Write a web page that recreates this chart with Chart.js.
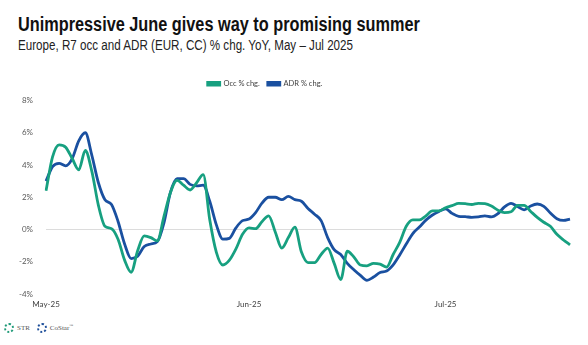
<!DOCTYPE html>
<html>
<head>
<meta charset="utf-8">
<script src="https://cdn.jsdelivr.net/npm/chart.js@4.4.1/dist/chart.umd.min.js"></script>
<style>
    html, body { margin: 0; padding: 0; background: #fff; }
    body { width: 588px; height: 345px; position: relative; overflow: hidden; font-family: 'Liberation Sans', Arial, sans-serif; }
    .title { position: absolute; left: 18px; top: 13px; font-size: 19.5px; font-weight: bold; color: #111; white-space: nowrap; transform: scaleX(0.835); transform-origin: 0 0; }
    .subtitle { position: absolute; left: 18px; top: 37px; font-size: 14px; color: #222; white-space: nowrap; transform: scaleX(0.83); transform-origin: 0 0; }
    .chart-box { position: absolute; left: 0; top: 72px; width: 588px; height: 244px; }
    .logos { position: absolute; left: 4px; top: 323px; font-size: 7px; color: #555; font-family: 'Liberation Serif', serif; display: flex; align-items: center; gap: 3px; }
    .ring { display: inline-block; width: 6px; height: 6px; border-radius: 50%; border: 2px dotted; box-sizing: content-box; }
</style>
</head>
<body>
<div class="title">Unimpressive June gives way to promising summer</div>
<div class="subtitle">Europe, R7 occ and ADR (EUR, CC) % chg. YoY, May – Jul 2025</div>
<div class="chart-box"><canvas id="trendChart"></canvas></div>
<div class="logos">
    <span class="ring" style="border-color:#1f9a78"></span><span>STR</span>
    <span class="ring" style="border-color:#1e4f9a; margin-left:4px"></span><span>CoStar<sup style="font-size:4px">™</sup></span>
</div>

<script>
// Daily rolling 7-day % change vs last year, 1 May - 20 Jul 2025
const startDate = '2025-05-01';
const monthTicks = ['May-25', 'Jun-25', 'Jul-25'];

const occChg = [
    2.4, 4.5, 5.25, 5.1, 4.4, 3.7, 4.9, 3.6, 1.5, 0.2,
    0.05, -0.6, -1.9, -2.65, -1.3, -0.4, -0.5, -0.7, 0.8, 2.3,
    3.05, 2.75, 2.45, 2.9, 3.4, 0.6, -1.4, -2.2, -1.9, -1.2,
    -0.3, 0.1, 0.05, 0.5, 0.85, -0.15, -1.15, -0.5, 0.15, -1.4,
    -2.05, -2.05, -1.55, -1.15, -2.1, -3.1, -1.35, -1.7, -2.2, -2.25,
    -2.1, -2.15, -2.33, -1.55, -0.8, 0.2, 0.6, 0.6, 0.85, 1.15,
    1.15, 1.35, 1.48, 1.62, 1.6, 1.55, 1.62, 1.6, 1.45, 1.2,
    1.05, 1.1, 1.5, 1.5, 1.12, 0.75, 0.45, 0.2, -0.3, -0.65,
    -0.95
];

const adrChg = [
    3.0, 3.9, 4.1, 3.95, 4.4, 5.5, 6.0, 4.6, 2.9, 1.85,
    1.55, 0.5, -0.9, -1.8, -1.65, -1.05, -0.9, -0.75, 0.4, 2.3,
    3.15, 3.15, 2.8, 2.7, 2.75, 1.75, 0.3, -0.6, -0.55, 0.1,
    0.55, 0.65, 1.05, 1.65, 2.0, 2.0, 1.85, 2.05, 1.85, 1.75,
    1.3, 0.95, 0.55, -0.5, -1.25, -1.55, -2.1, -2.5, -2.85, -3.15,
    -2.95, -2.67, -2.58, -2.2, -1.58, -0.9, -0.25, 0.15, 0.58, 0.9,
    1.12, 1.28, 1.0, 0.82, 0.8, 0.75, 0.78, 0.84, 0.78, 0.98,
    1.4, 1.62, 1.42, 1.22, 1.46, 1.58, 1.44, 1.02, 0.67, 0.56,
    0.65
];

// one label per day, ticks only shown on the 1st of each month
const days = [];
const d0 = new Date(startDate + 'T00:00:00Z');
for (let i = 0; i < occChg.length; i++) {
    const d = new Date(d0.getTime() + i * 86400000);
    days.push(d.toISOString().slice(0, 10));
}

const smallFont = 'Lato, "Open Sans", sans-serif';

// legend: extra room below it, and sits a bit left of centre
const legendTweak = {
    id: 'legendTweak',
    beforeInit: function (chart) {
        const fit = chart.legend.fit;
        chart.legend.fit = function () {
            fit.call(this);
            this.height += 3;
        };
    },
    afterLayout: function (chart) {
        chart.legend.right -= 40;
        chart.legend.adjustHitBoxes();
    }
};

const ctx = document.getElementById('trendChart');
new Chart(ctx, {
    type: 'line',
    data: {
        labels: days,
        datasets: [
            {
                label: 'Occ % chg.',
                data: occChg,
                borderColor: '#17a080',
                backgroundColor: '#17a080',
                borderWidth: 2.8,
                pointRadius: 0,
                tension: 0.4,
                cubicInterpolationMode: 'monotone'
            },
            {
                label: 'ADR % chg.',
                data: adrChg,
                borderColor: '#1a50a0',
                backgroundColor: '#1a50a0',
                borderWidth: 2.8,
                pointRadius: 0,
                tension: 0.4,
                cubicInterpolationMode: 'monotone'
            }
        ]
    },
    options: {
        responsive: true,
        maintainAspectRatio: false,
        animation: false,
        layout: { padding: { left: 0, right: 18, top: 0, bottom: 0 } },
        plugins: {
            legend: {
                display: true,
                position: 'top',
                labels: {
                    boxWidth: 12,
                    boxHeight: 2.5,
                    padding: 8,
                    color: '#404040',
                    font: { family: smallFont, size: 7.5 }
                }
            },
            tooltip: { enabled: false }
        },
        scales: {
            x: {
                offset: false,
                grid: { display: false, drawTicks: false },
                border: { display: false },
                ticks: {
                    autoSkip: false,
                    maxRotation: 0,
                    color: '#404040',
                    font: { family: smallFont, size: 8 },
                    padding: 6,
                    callback: function (val, i) {
                        const lbl = days[i];
                        if (lbl && lbl.slice(8) === '01') {
                            return monthTicks[parseInt(lbl.slice(5, 7), 10) - 5];
                        }
                        return null;
                    }
                },
                afterFit: function (scale) { scale.height = 22; }
            },
            y: {
                min: -4,
                max: 8,
                border: { display: false },
                grid: {
                    drawTicks: false,
                    color: function (c) { return c.tick && c.tick.value === 0 ? '#dcdcdc' : 'rgba(0,0,0,0)'; }
                },
                ticks: {
                    stepSize: 2,
                    color: '#595959',
                    font: { family: smallFont, size: 8 },
                    padding: 13,
                    callback: function (v) { return v + '%'; }
                },
                afterFit: function (scale) { scale.width = 46; }
            }
        }
    },
    plugins: [legendTweak]
});
</script>
</body>
</html>
